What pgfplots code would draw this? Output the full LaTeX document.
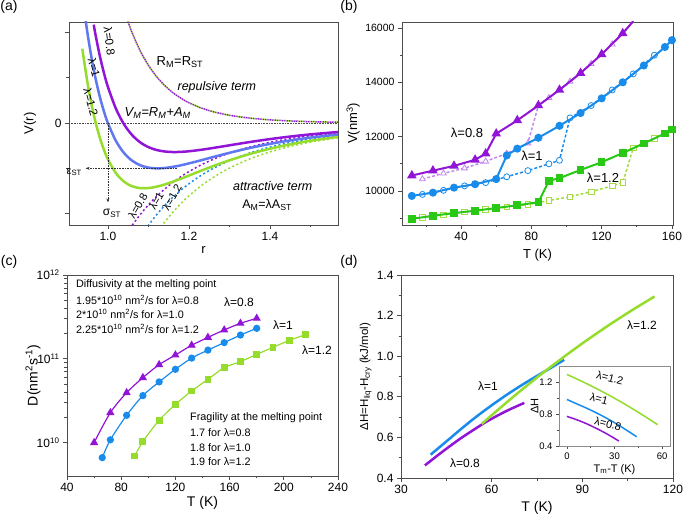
\documentclass[border=0pt]{standalone}
\usepackage{fontspec}
\setmainfont{Liberation Sans}
\usepackage{pgfplots}
\pgfplotsset{compat=1.18}
\usetikzlibrary{arrows.meta}

\definecolor{vio}{RGB}{145,20,215}
\definecolor{vioL}{RGB}{195,135,240}
\definecolor{peri}{RGB}{95,120,240}
\definecolor{sky}{RGB}{25,140,235}
\definecolor{lime}{RGB}{150,220,45}
\definecolor{grn}{RGB}{40,200,20}
\definecolor{grnL}{RGB}{165,220,70}

\newcommand{\fs}[1]{\fontsize{#1}{#1}\selectfont}

\pgfplotsset{
  panel/.style={
    scale only axis, anchor=south west,
    axis line style={draw=black!70, line width=0.8pt},
    tick style={black!70, line width=0.7pt},
    tick align=outside, major tick length=4pt, minor tick length=2.5pt,
    xtick pos=bottom, ytick pos=left,
    tick label style={font=\fs{12}},
    label style={font=\fs{13}},
    /pgf/number format/assume math mode=true,
    clip mode=individual,
  },
}

\begin{document}
\begin{tikzpicture}
\path[use as bounding box] (0pt,0pt) rectangle (685pt,519pt);

% ---------------- (a)
\begin{axis}[panel, at={(69pt,294pt)}, width=269pt, height=203pt,
  xmin=0.904, xmax=1.568, ymin=-2.25, ymax=2.23,
  xtick={1.0,1.2,1.4}, xticklabels={1.0,1.2,1.4}, minor xtick={0.9,1.1,1.3,1.5},
  ytick={-2,0,2}, yticklabels={,0,}, minor ytick={-1,1},
  xlabel={r}, ylabel={V(r)},
  xlabel style={at={(axis description cs:0.5,-0.123)}, anchor=center},
  ylabel style={at={(axis description cs:-0.145,0.5)}, anchor=center},
]
\draw[densely dotted, black!70, line width=0.6pt] (axis cs:0.904,0) -- (axis cs:1.568,0);
% repulsive term
\addplot[lime, line width=1.5pt, smooth, dash pattern=on 1.2pt off 1.2pt] coordinates {
(1.045,2.359)(1.05,2.227)(1.06,1.988)(1.08,1.589)(1.10,1.275)(1.12,1.027)(1.14,0.830)(1.16,0.674)(1.18,0.549)(1.20,0.4486)(1.23,0.3336)(1.26,0.2498)(1.30,0.1717)(1.35,0.1092)(1.40,0.0705)(1.45,0.0463)(1.50,0.0308)(1.57,0.0178)};
\addplot[vio, line width=1.5pt, smooth, dash pattern=on 1.2pt off 1.2pt, dash phase=1.2pt] coordinates {
(1.045,2.359)(1.05,2.227)(1.06,1.988)(1.08,1.589)(1.10,1.275)(1.12,1.027)(1.14,0.830)(1.16,0.674)(1.18,0.549)(1.20,0.4486)(1.23,0.3336)(1.26,0.2498)(1.30,0.1717)(1.35,0.1092)(1.40,0.0705)(1.45,0.0463)(1.50,0.0308)(1.57,0.0178)};
% attractive terms
\addplot[vio, line width=1.5pt, smooth, dash pattern=on 2pt off 2.5pt] coordinates {
(1.06,-2.256)(1.08,-2.017)(1.10,-1.806)(1.12,-1.621)(1.14,-1.458)(1.16,-1.313)(1.18,-1.185)(1.20,-1.072)(1.23,-0.924)(1.26,-0.800)(1.30,-0.663)(1.35,-0.529)(1.40,-0.425)(1.45,-0.344)(1.50,-0.281)(1.57,-0.214)};
\addplot[sky, line width=1.5pt, smooth, dash pattern=on 2pt off 2.5pt] coordinates {
(1.08,-2.521)(1.10,-2.258)(1.12,-2.026)(1.14,-1.822)(1.16,-1.642)(1.18,-1.482)(1.20,-1.340)(1.23,-1.155)(1.26,-1.000)(1.30,-0.829)(1.35,-0.661)(1.40,-0.531)(1.45,-0.430)(1.50,-0.351)(1.57,-0.267)};
\addplot[lime, line width=1.5pt, smooth, dash pattern=on 2pt off 2.5pt] coordinates {
(1.10,-2.710)(1.12,-2.432)(1.14,-2.187)(1.16,-1.970)(1.18,-1.778)(1.20,-1.608)(1.23,-1.386)(1.26,-1.200)(1.30,-0.995)(1.35,-0.793)(1.40,-0.637)(1.45,-0.516)(1.50,-0.421)(1.57,-0.321)};
% total potentials
\addplot[lime, line width=2.5pt, smooth] coordinates {
(0.937,1.641)(0.94,1.447)(0.95,0.873)(0.96,0.396)(0.97,0.0024)(0.98,-0.3211)(0.99,-0.5855)(1.00,-0.8)(1.02,-1.1082)(1.04,-1.2951)(1.06,-1.3959)(1.08,-1.4363)(1.10,-1.435)(1.12,-1.4051)(1.14,-1.3566)(1.16,-1.2962)(1.18,-1.2291)(1.20,-1.1589)(1.23,-1.0526)(1.26,-0.9497)(1.30,-0.8228)(1.35,-0.6838)(1.40,-0.5669)(1.45,-0.4702)(1.50,-0.3906)(1.57,-0.3028)};
\addplot[peri, line width=2.5pt, smooth] coordinates {
(0.945,2.270)(0.95,1.961)(0.96,1.418)(0.97,0.9628)(0.98,0.5821)(0.99,0.2643)(1.00,0)(1.02,-0.3978)(1.04,-0.6629)(1.06,-0.8319)(1.08,-0.9322)(1.10,-0.9834)(1.12,-0.9998)(1.14,-0.9921)(1.16,-0.9679)(1.18,-0.9328)(1.20,-0.891)(1.23,-0.8216)(1.26,-0.7498)(1.30,-0.6571)(1.35,-0.5516)(1.40,-0.4607)(1.45,-0.3841)(1.50,-0.3203)(1.57,-0.2493)};
\addplot[vio, line width=2.5pt, smooth] coordinates {
(0.965,2.171)(0.97,1.923)(0.98,1.485)(0.99,1.114)(1.00,0.8)(1.02,0.3126)(1.04,-0.0307)(1.06,-0.2679)(1.08,-0.428)(1.10,-0.5318)(1.12,-0.5945)(1.14,-0.6276)(1.16,-0.6396)(1.18,-0.6365)(1.20,-0.623)(1.23,-0.5905)(1.26,-0.5499)(1.30,-0.4913)(1.35,-0.4195)(1.40,-0.3544)(1.45,-0.298)(1.50,-0.2501)(1.57,-0.1959)};
% guides
\draw[densely dotted, black!80, line width=0.6pt, -{Stealth[length=4pt,width=3pt]}] (axis cs:1.17,-1) -- (axis cs:0.945,-1);
\draw[densely dotted, black!80, line width=0.6pt, -{Stealth[length=4pt,width=3pt]}] (axis cs:1.0,0) -- (axis cs:1.0,-1.75);
\node[font=\fs{11}] at (axis cs:0.917,-1.08) {ε\textsubscript{ST}};
\node[font=\fs{12}] at (axis cs:1.01,-2.0) {σ\textsubscript{ST}};
\node[font=\fs{11.5}, rotate=-83] at (axis cs:1.004,1.81) {λ=0.8};
\node[font=\fs{11.5}, rotate=-75] at (axis cs:0.966,1.215) {λ=1};
\node[font=\fs{11.5}, rotate=-75] at (axis cs:0.958,0.46) {λ=1.2};
\node[font=\fs{11}, rotate=60, inner sep=0pt] at (axis cs:1.074,-1.83) {λ=0.8};
\node[font=\fs{11}, rotate=60, inner sep=0pt] at (axis cs:1.119,-1.71) {λ=1};
\node[font=\fs{11}, rotate=60, inner sep=0pt] at (axis cs:1.158,-1.64) {λ=1.2};
\node[font=\fs{13}] at (axis cs:1.178,1.35) {R\textsubscript{M}=R\textsubscript{ST}};
\node[font=\fs{12.5}\itshape] at (axis cs:1.269,0.80) {repulsive term};
\node[font=\fs{13}\itshape] at (axis cs:1.123,0.22) {V\textsubscript{M}=R\textsubscript{M}+A\textsubscript{M}};
\node[font=\fs{12.5}\itshape] at (axis cs:1.407,-1.39) {attractive term};
\node[font=\fs{12.5}] at (axis cs:1.393,-1.81) {A\textsubscript{M}=λA\textsubscript{ST}};
\end{axis}

% ---------------- (b)
\begin{axis}[panel, at={(402pt,294pt)}, width=271pt, height=203pt,
  xmin=6.4, xmax=160.6, ymin=8750, ymax=16220,
  xtick={40,80,120,160}, minor xtick={20,60,100,140},
  ytick={10000,12000,14000,16000}, minor ytick={9000,11000,13000,15000},
  scaled y ticks=false,
  yticklabel style={font=\fs{10.5}, /pgf/number format/1000 sep={}},
  xlabel={T (K)}, ylabel={V(nm\textsuperscript{3})},
  xlabel style={at={(axis description cs:0.5,-0.148)}, anchor=center},
  ylabel style={at={(axis description cs:-0.18,0.5)}, anchor=center},
]
% hollow (dashed)
\addplot[vioL, line width=1.5pt, dash pattern=on 3pt off 2pt, mark=triangle*, mark size=3.4pt, mark options={solid, fill=white, line width=0.8pt}] coordinates {
(18,10440)(30,10650)(42,10840)(54,11090)(66,11380)(78,11760)(84,13150)(90,13430)(102,14030)(114,14680)(126,15400)(138,16250)};
\addplot[sky, line width=1.5pt, dash pattern=on 3pt off 2pt, mark=*, mark size=3pt, mark options={solid, fill=white, line width=0.8pt}] coordinates {
(18,9875)(30,10025)(42,10190)(54,10310)(66,10525)(78,10750)(90,11000)(96,11130)(102,12690)(114,13145)(126,13720)(138,14310)(150,15000)};
\addplot[grnL, line width=1.5pt, dash pattern=on 3pt off 2pt, mark=square*, mark size=2.8pt, mark options={solid, fill=white, line width=0.8pt}] coordinates {
(18,9025)(30,9125)(42,9225)(54,9315)(66,9410)(78,9500)(90,9650)(102,9790)(114,9975)(126,10190)(132,10310)(138,11585)(150,11935)};
% filled (solid)
\addplot[vio, line width=2pt, mark=triangle*, mark size=3.6pt] coordinates {
(12,10570)(24,10750)(36,10925)(48,11150)(54,11375)(60,12110)(72,12600)(84,13150)(96,13720)(108,14340)(120,15030)(132,15800)(138,16250)};
\addplot[sky, line width=2pt, mark=*, mark size=3pt] coordinates {
(12,9820)(24,9940)(36,10125)(48,10250)(60,10440)(66,11310)(72,11560)(84,11960)(96,12400)(108,12870)(120,13410)(132,14000)(144,14620)(156,15300)(160,15550)};
\addplot[grn, line width=2pt, mark=square*, mark size=2.8pt] coordinates {
(12,8975)(24,9090)(36,9190)(48,9275)(60,9375)(72,9475)(84,9590)(90,10375)(96,10475)(108,10775)(120,11060)(132,11400)(144,11750)(156,12120)(160,12270)};
\end{axis}
\node[font=\fs{13}] at (467pt,386pt) {λ=0.8};
\node[font=\fs{13}] at (532pt,363pt) {λ=1};
\node[font=\fs{13}] at (603pt,341pt) {λ=1.2};

% ---------------- (c)
\begin{axis}[panel, at={(67pt,43pt)}, width=271pt, height=201pt,
  ymode=log, xmin=40, xmax=240, ymin=4e9, ymax=1e12,
  xtick={40,80,120,160,200,240}, minor xtick={60,100,140,180,220},
  ytick={1e10,1e11,1e12},
  yticklabels={10\textsuperscript{10},10\textsuperscript{11},10\textsuperscript{12}},
  xlabel={T (K)}, ylabel={D(nm\textsuperscript{2}s\textsuperscript{-1})},
  label style={font=\fs{14}},
  xlabel style={at={(axis description cs:0.5,-0.134)}, anchor=center},
  ylabel style={at={(axis description cs:-0.125,0.5)}, anchor=center},
]
\addplot[vio, line width=1.2pt, smooth, mark=triangle*, mark size=3.6pt] coordinates {
(60,1.00e10)(72,2.28e10)(84,3.94e10)(96,5.96e10)(108,8.51e10)(120,1.11e11)(132,1.45e11)(144,1.80e11)(156,2.21e11)(168,2.65e11)(180,3.04e11)};
\addplot[sky, line width=1.2pt, smooth, mark=*, mark size=3pt] coordinates {
(66,6.62e9)(72,1.08e10)(84,2.12e10)(96,3.64e10)(108,5.30e10)(120,7.50e10)(132,1.02e11)(144,1.27e11)(156,1.56e11)(168,1.92e11)(180,2.31e11)};
\addplot[lime, line width=1.2pt, smooth, mark=square*, mark size=2.8pt] coordinates {
(90,6.93e9)(96,1.03e10)(108,1.85e10)(120,2.86e10)(132,4.13e10)(144,5.69e10)(156,7.85e10)(168,9.25e10)(180,1.13e11)(192,1.37e11)(204,1.66e11)(216,1.94e11)};
\end{axis}
\begin{scope}[every node/.style={font=\fs{10.8}, anchor=west, inner sep=0pt}]
\node at (76pt,234pt) {Diffusivity at the melting point};
\node at (76pt,219.5pt) {1.95*10\textsuperscript{10} nm\textsuperscript{2}/s for λ=0.8};
\node at (76pt,205pt) {2*10\textsuperscript{10} nm\textsuperscript{2}/s for λ=1.0};
\node at (76pt,190pt) {2.25*10\textsuperscript{10} nm\textsuperscript{2}/s for λ=1.2};
\node at (190pt,101pt) {Fragility at the melting point};
\node at (190pt,86pt) {1.7 for λ=0.8};
\node at (190pt,71.5pt) {1.8 for λ=1.0};
\node at (190pt,57pt) {1.9 for λ=1.2};
\end{scope}
\node[font=\fs{12}] at (239pt,217pt) {λ=0.8};
\node[font=\fs{12}] at (283pt,194pt) {λ=1};
\node[font=\fs{12}] at (317pt,169pt) {λ=1.2};

% ---------------- (d)
\begin{axis}[panel, at={(401pt,41pt)}, width=272pt, height=203pt,
  xmin=30, xmax=120, ymin=0.4, ymax=1.4,
  xtick={30,60,90,120}, minor xtick={45,75,105},
  ytick={0.4,0.6,...,1.41}, minor ytick={0.5,0.7,0.9,1.1,1.3},
  yticklabel style={/pgf/number format/.cd, fixed, fixed zerofill, precision=1},
  xlabel={T (K)},
  ylabel={ΔH=H\textsubscript{liq}-H\textsubscript{cry} (kJ/mol)},
  label style={font=\fs{14}},
  ylabel style={font=\fs{11.5}, at={(axis description cs:-0.13,0.5)}, anchor=center},
  xlabel style={at={(axis description cs:0.5,-0.148)}, anchor=center},
]
\addplot[vio, line width=2.5pt, smooth] coordinates {
(37.9,0.462)(42,0.51)(46,0.555)(50,0.598)(54,0.637)(58,0.675)(62,0.708)(66,0.738)(70.8,0.770)};
\addplot[sky, line width=2.5pt, smooth] coordinates {
(39.8,0.515)(45,0.58)(50,0.643)(55,0.703)(60,0.758)(65,0.810)(70,0.858)(75,0.903)(80,0.946)(84,0.982)};
\addplot[lime, line width=2.5pt, smooth] coordinates {
(56.7,0.666)(60,0.709)(65,0.773)(70,0.835)(75,0.895)(80,0.953)(85,1.009)(90,1.063)(95,1.115)(100,1.165)(105,1.213)(110,1.259)(113.9,1.294)};
\end{axis}
\node[font=\fs{12}] at (488pt,133pt) {λ=1};
\node[font=\fs{12}] at (465pt,56pt) {λ=0.8};
\node[font=\fs{12}] at (642pt,194pt) {λ=1.2};

% inset
\begin{axis}[panel, at={(559pt,73pt)}, width=111pt, height=80pt,
  axis background/.style={fill=white},
  axis line style={draw=black!45, line width=0.7pt},
  xmin=-5, xmax=65, ymin=0.4, ymax=1.4,
  xtick={0,30,60}, minor xtick={15,45},
  ytick={0.4,0.8,1.2}, minor ytick={0.6,1.0},
  major tick length=3pt, minor tick length=1.8pt,
  tick label style={font=\fs{9.5}},
  yticklabel style={/pgf/number format/.cd, fixed, fixed zerofill, precision=1},
  xlabel={T\textsubscript{m}-T (K)}, ylabel={ΔH},
  label style={font=\fs{11}},
  xlabel style={at={(axis description cs:0.5,-0.29)}, anchor=center},
  ylabel style={at={(axis description cs:-0.22,0.5)}, anchor=center},
]
\addplot[lime, line width=1.5pt, smooth] coordinates {
(0,1.294)(3.9,1.259)(8.9,1.213)(13.9,1.165)(18.9,1.115)(23.9,1.063)(28.9,1.009)(33.9,0.953)(38.9,0.895)(43.9,0.835)(48.9,0.773)(53.9,0.709)(57.2,0.666)};
\addplot[sky, line width=1.5pt, smooth] coordinates {
(0,0.982)(4,0.946)(9,0.903)(14,0.858)(19,0.810)(24,0.758)(29,0.703)(34,0.643)(39,0.58)(44,0.515)};
\addplot[vio, line width=1.5pt, smooth] coordinates {
(0,0.770)(4.8,0.738)(8.8,0.708)(12.8,0.675)(16.8,0.637)(20.8,0.598)(24.8,0.555)(28.8,0.51)(32.8,0.462)};
\end{axis}
\node[font=\fs{11}, rotate=-15] at (610pt,141pt) {λ=1.2};
\node[font=\fs{11}, rotate=-15] at (599pt,120pt) {λ=1};
\node[font=\fs{11}, rotate=-15] at (608pt,95pt) {λ=0.8};

% panel letters
\node[font=\fs{14}] at (9pt,512pt) {(a)};
\node[font=\fs{14}] at (349pt,512pt) {(b)};
\node[font=\fs{14}] at (9pt,257pt) {(c)};
\node[font=\fs{14}] at (349pt,257pt) {(d)};
\end{tikzpicture}
\end{document}
